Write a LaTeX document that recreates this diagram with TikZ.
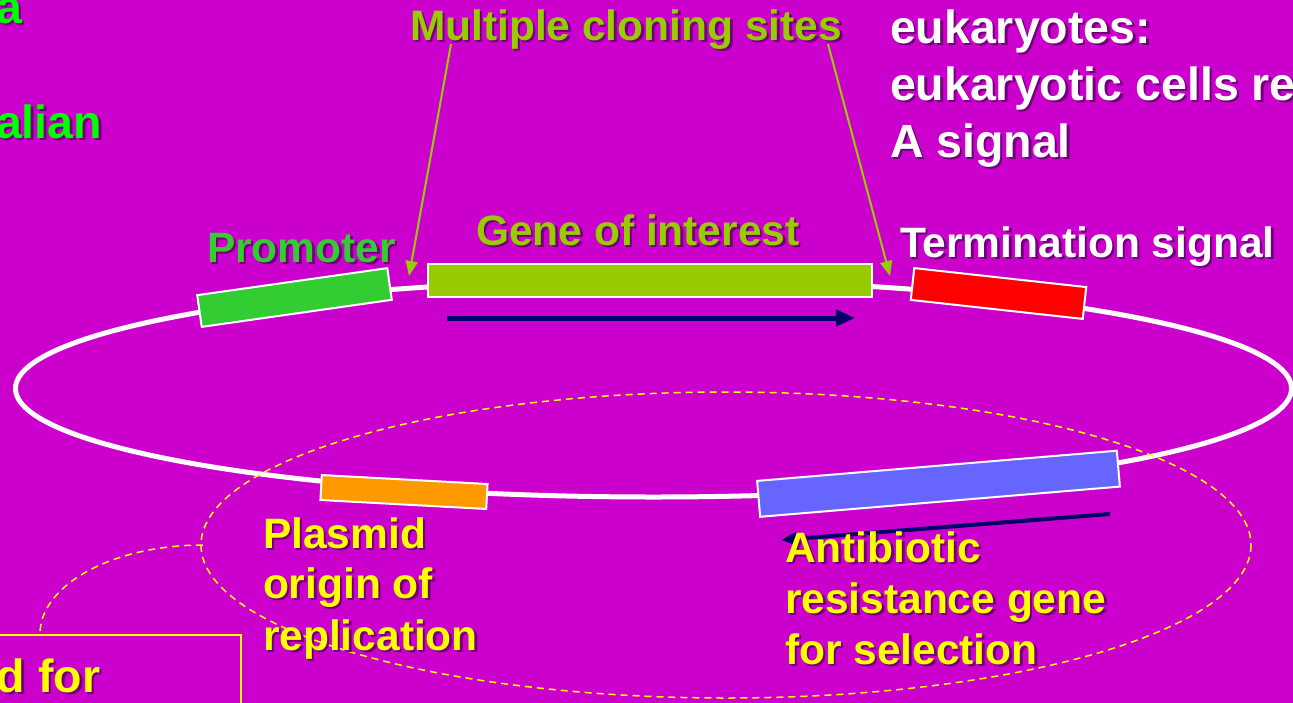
\documentclass[tikz,border=0pt]{standalone}
\usepackage{fontspec}
\setmainfont{Liberation Sans}
\usetikzlibrary{arrows.meta}
\definecolor{bg}{RGB}{204,0,204}
\definecolor{shade}{RGB}{112,0,122}
\definecolor{brightgreen}{RGB}{0,255,0}
\definecolor{promgreen}{RGB}{51,204,51}
\definecolor{genegreen}{RGB}{153,204,0}
\definecolor{lblyellow}{RGB}{255,255,0}
\definecolor{termred}{RGB}{255,0,0}
\definecolor{orioran}{RGB}{255,153,0}
\definecolor{resblue}{RGB}{102,102,255}
\definecolor{navyarrow}{RGB}{0,0,102}
\newcommand\shtxt[1]{\makebox[0pt][l]{\hspace{2.5pt}\raisebox{-2.5pt}{\textcolor{shade}{#1}}}#1}
\tikzset{
  lbl/.style={anchor=base west, inner sep=0pt, outer sep=0pt, font=\fontsize{42.5}{50}\selectfont\bfseries},
  biglbl/.style={anchor=base west, inner sep=0pt, outer sep=0pt, font=\fontsize{46.5}{56}\selectfont\bfseries},
  genebar/.style={draw=white, line width=2pt, inner sep=0pt, outer sep=0pt},
  plasmid/.style={draw=white, line width=5pt},
  region/.style={draw=lblyellow, line width=1.5pt, dash pattern=on 7pt off 5pt},
  mcsarrow/.style={draw=genegreen, line width=2pt, -{Triangle[length=15pt,width=12pt]}},
  dirarrow/.style={draw=navyarrow, line width=5pt, -{Triangle[length=19pt,width=16pt]}},
  dirarrowthin/.style={draw=navyarrow, line width=4pt, -{Triangle[length=16pt,width=13pt]}},
}
\begin{document}
\begin{tikzpicture}[x=1pt,y=-1pt]
\useasboundingbox (0,0) rectangle (1293,702);
\clip (0,0) rectangle (1293,702);
\fill[bg] (-10,-10) rectangle (1303,712);

% plasmid backbone
\draw[plasmid] (653.5,388.5) ellipse [x radius=638, y radius=108.5];

% dashed regions
\draw[region] (726,545) ellipse [x radius=525, y radius=153];
\draw[region] (203,545) arc [start angle=270, end angle=180, x radius=163, y radius=89];
\draw[draw=lblyellow, line width=2pt] (-5,635) rectangle (241,720);

% genetic elements
\node[genebar, fill=promgreen, minimum width=192pt, minimum height=32pt, rotate=8.1] (prom) at (294.5,297.5) {};
\node[genebar, fill=genegreen, minimum width=444pt, minimum height=33pt] (gene) at (650,280.5) {};
\node[genebar, fill=termred, minimum width=173pt, minimum height=32pt, rotate=-6.3] (term) at (998.5,293.5) {};
\node[genebar, fill=orioran, minimum width=166pt, minimum height=25pt, rotate=-3.1] (ori) at (404,492) {};
\node[genebar, fill=resblue, minimum width=361pt, minimum height=36pt, rotate=4.8] (res) at (938.5,483.75) {};

% direction arrows
\coordinate (genestart) at (447,318);
\coordinate (geneend) at (855,318);
\draw[dirarrow] (genestart) -- (geneend);
\coordinate (resstart) at (1110,514);
\coordinate (resend) at (781,540);
\draw[dirarrowthin] (resstart) -- (resend);

% labels
\node[biglbl, text=brightgreen] (ta) at (-4,23) {\shtxt{a}};
\node[biglbl, text=brightgreen] (talian) at (-4,138) {\shtxt{alian}};
\node[lbl, text=genegreen] (mcs) at (410,40) {\shtxt{Multiple cloning sites}};
\node[biglbl, text=white] (euk1) at (890,43) {\shtxt{eukaryotes:}};
\node[biglbl, text=white] (euk2) at (890,100) {\shtxt{eukaryotic cells require a poly}};
\node[biglbl, text=white] (euk3) at (890,157) {\shtxt{A signal}};
\node[lbl, text=promgreen] (promlbl) at (207,262) {\shtxt{Promoter}};
\node[lbl, text=genegreen] (genelbl) at (476,245) {\shtxt{Gene of interest}};
\node[lbl, text=white] (termlbl) at (900,257) {\shtxt{Termination signal}};
\node[lbl, text=lblyellow] (ori1) at (263,548) {\shtxt{Plasmid}};
\node[lbl, text=lblyellow] (ori2) at (263,598) {\shtxt{origin of}};
\node[lbl, text=lblyellow] (ori3) at (263,650) {\shtxt{replication}};
\node[lbl, text=lblyellow] (res1) at (785,562) {\shtxt{Antibiotic}};
\node[lbl, text=lblyellow] (res2) at (785,613) {\shtxt{resistance gene}};
\node[lbl, text=lblyellow] (res3) at (785,664) {\shtxt{for selection}};
\node[biglbl, text=lblyellow] (boxlbl) at (-3,692) {\shtxt{d for}};

% multiple cloning site pointers
\coordinate (mcsL) at (451,44);
\coordinate (mcsLtip) at (409,276);
\coordinate (mcsR) at (828,44);
\coordinate (mcsRtip) at (890,276);
\draw[mcsarrow] (mcsL) -- (mcsLtip);
\draw[mcsarrow] (mcsR) -- (mcsRtip);
\end{tikzpicture}
\end{document}
